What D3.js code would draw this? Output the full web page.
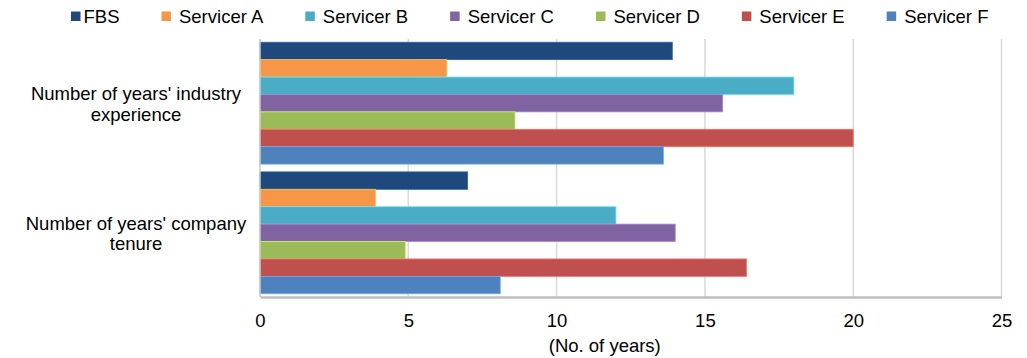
<!DOCTYPE html>
<html>
<head>
<meta charset="utf-8">
<script src="https://cdn.jsdelivr.net/npm/d3@7"></script>
<style>
  body { margin: 0; background: #fff; }
  text { font-family: "Liberation Sans", Arial, sans-serif; fill: #000; }
</style>
</head>
<body>
<div id="chart"></div>
<script>
// DATA
const categories = ["Number of years' industry experience", "Number of years' company tenure"];
const categoryLines = [["Number of years' industry", "experience"], ["Number of years' company", "tenure"]];
const series = ["FBS", "Servicer A", "Servicer B", "Servicer C", "Servicer D", "Servicer E", "Servicer F"];
const industryExperience = [13.9, 6.3, 18.0, 15.6, 8.6, 20.0, 13.6];
const companyTenure = [7.0, 3.9, 12.0, 14.0, 4.9, 16.4, 8.1];
const xTicks = [0, 5, 10, 15, 20, 25];
const xTitle = "(No. of years)";
const colors = ["#1F497D", "#F79646", "#4BACC6", "#8064A2", "#9BBB59", "#C0504D", "#4F81BD"];
// DATA

// SVG MAIN SIZE
const width = 1027;
const height = 358;
const margin = { top: 39, right: 26, bottom: 61, left: 260 };
const fontSize = 18.5;
// SVG MAIN SIZE

const rows = [industryExperience, companyTenure];

const svg = d3.select('#chart').append('svg')
  .attr('width', width)
  .attr('height', height);

const xScale = d3.scaleLinear()
  .domain([0, 25])
  .range([margin.left, 1001.5]);

const yScale = d3.scaleBand()
  .domain(categories)
  .range([margin.top, height - margin.bottom])
  .paddingInner(0.06)
  .paddingOuter(0.025);

const ySub = d3.scaleBand()
  .domain(series)
  .range([0, yScale.bandwidth()]);

const colorScale = d3.scaleOrdinal().domain(series).range(colors);

// gridlines
svg.append('g')
  .selectAll('line').data(xTicks.filter(d => d > 0))
  .enter().append('line')
  .attr('x1', d => xScale(d)).attr('x2', d => xScale(d))
  .attr('y1', margin.top).attr('y2', height - margin.bottom)
  .attr('stroke', '#d9d9d9')
  .attr('stroke-width', 1.5);

// bars
categories.forEach((cat, ci) => {
  const g = svg.append('g')
    .attr('transform', `translate(0, ${yScale(cat)})`);
  g.selectAll('rect').data(series.map((s, i) => ({ s, v: rows[ci][i] })))
    .enter().append('rect')
    .attr('x', xScale(0))
    .attr('y', d => ySub(d.s))
    .attr('width', d => xScale(d.v) - xScale(0))
    .attr('height', ySub.bandwidth())
    .attr('fill', d => colorScale(d.s))
    .attr('stroke', d => d3.color(colorScale(d.s)).brighter(0.8))
    .attr('stroke-width', 0.8);
});

// axes lines
svg.append('line')
  .attr('x1', xScale(0)).attr('x2', xScale(0))
  .attr('y1', margin.top).attr('y2', height - margin.bottom)
  .attr('stroke', '#c8c8c8').attr('stroke-width', 1.5);

const xAxis = d3.axisBottom(xScale).tickValues(xTicks).tickSize(0).tickPadding(17);
const xg = svg.append('g')
  .attr('transform', `translate(0, ${height - margin.bottom})`)
  .call(xAxis);
xg.select('.domain').attr('stroke', '#bfbfbf').attr('stroke-width', 2.5);
xg.selectAll('.tick text')
  .attr('font-size', fontSize)
  .attr('font-family', '"Liberation Sans", Arial, sans-serif')
  .attr('fill', '#000');

svg.append('text')
  .text(xTitle)
  .attr('x', (xScale(0) + xScale(25)) / 2 - 26)
  .attr('y', 352)
  .attr('text-anchor', 'middle')
  .attr('font-size', fontSize);

// category labels
categories.forEach((cat, ci) => {
  const cy = yScale(cat) + yScale.bandwidth() / 2;
  const t = svg.append('text')
    .attr('x', 136)
    .attr('text-anchor', 'middle')
    .attr('font-size', fontSize);
  categoryLines[ci].forEach((line, li) => {
    t.append('tspan')
      .attr('x', 136)
      .attr('y', cy - 3 + li * 20.5)
      .text(line);
  });
});

// legend
const legend = svg.append('g');
let lx = 71;
series.forEach((s, i) => {
  legend.append('rect')
    .attr('x', lx).attr('y', 11.5)
    .attr('width', 9.5).attr('height', 9.5)
    .attr('fill', colorScale(s));
  const tx = lx + 9.5 + (i === 0 ? 3 : 8);
  const t = legend.append('text')
    .text(s)
    .attr('x', tx).attr('y', 22.5)
    .attr('font-size', fontSize);
  lx = tx + t.node().getComputedTextLength() + 42;
});
</script>
</body>
</html>
